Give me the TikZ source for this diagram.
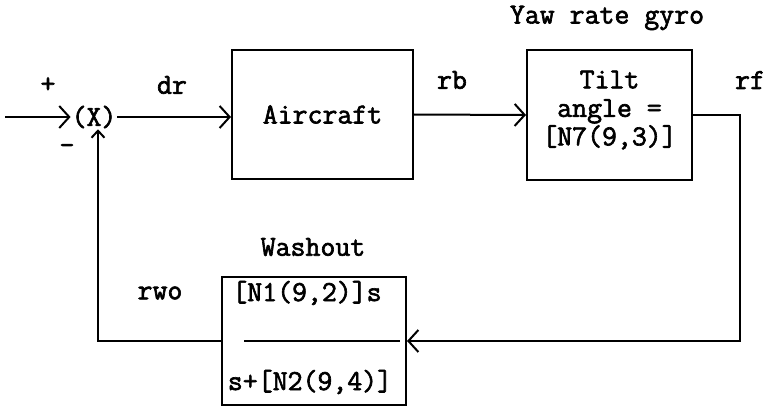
\documentclass[tikz,border=0pt]{standalone}
\usepackage{fontspec}
\setmonofont{Latin Modern Mono}[FakeBold=2.2]
\usetikzlibrary{arrows.meta}

\begin{document}
\begin{tikzpicture}[x=1pt, y=-1pt, line width=2pt,
    font=\ttfamily\bfseries\fontsize{29}{28.5}\selectfont,
    block_style/.style={draw=black, align=center, inner sep=0pt, line width=2pt},
    label_style/.style={inner sep=0pt},
    edge_style/.style={draw=black, line width=2pt, -{Straight Barb[length=10pt, width=22pt, line width=2pt]}},
    up_style/.style={draw=black, line width=2pt, -{Straight Barb[length=7pt, width=13pt, line width=2pt]}}]

    \useasboundingbox (0,0) rectangle (767,406);

    \node[label_style] (sum) at (94,117) {(X)};
    \node[block_style, minimum width=181pt, minimum height=129pt] (air) at (322.5,114.5) {Aircraft};
    \node[block_style, minimum width=165pt, minimum height=130pt] (tilt) at (609.5,115) {Tilt\\angle =\\{}[N7(9,3)]\rule[-14pt]{0pt}{0pt}};
    \node[block_style, minimum width=184pt, minimum height=128pt] (wo) at (314,341) {};

    \node[label_style] (plus) at (48,85) {+};
    \node[label_style] (minus) at (67,149) {-};
    \node[label_style] (dr) at (172,85) {dr};
    \node[label_style] (rb) at (452,80) {rb};
    \node[label_style, anchor=east] (rf) at (766,80) {rf};
    \node[label_style] (rwo) at (160,293) {rwo};
    \node[label_style] (gyro) at (607,18) {Yaw rate gyro};
    \node[label_style] (wash) at (313,247) {Washout};
    \node[label_style] (num) at (307,293) {[N1(9,2)]s};
    \node[label_style] (den) at (310,382) {s+[N2(9,4)]};

    \coordinate (in) at (5,117);
    \coordinate (rc) at (740,341);
    \coordinate (fb) at (98,341);

    \draw[edge_style] (in) -- (sum.west);
    \draw[edge_style] (sum.east) -- (sum.east -| air.west);
    \draw[edge_style] (air.east) -- (tilt.west);
    \draw[edge_style] (tilt.east) -| (rc) -- (wo.east);
    \draw[up_style] (wo.west) -- (fb) -- (fb |- sum.south);
    \draw ([xshift=23pt]wo.west) -- ([xshift=-7pt]wo.east);
\end{tikzpicture}
\end{document}
